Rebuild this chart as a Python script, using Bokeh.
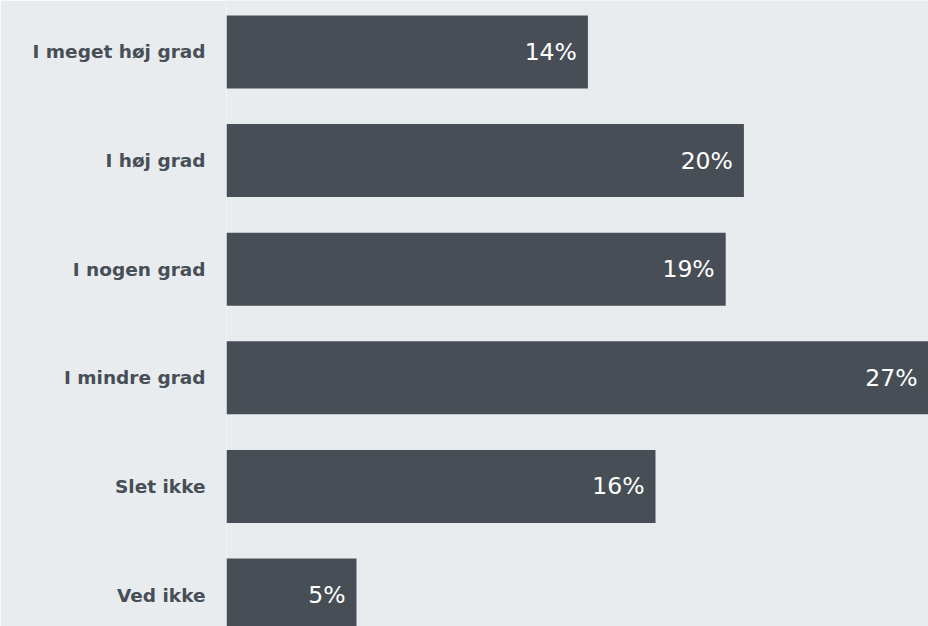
from bokeh.plotting import figure
from bokeh.models import ColumnDataSource, Range1d, FixedTicker
from bokeh.core.properties import value
from bokeh.embed import file_html
from bokeh.resources import INLINE

categories = ["I meget høj grad", "I høj grad", "I nogen grad", "I mindre grad", "Slet ikke", "Ved ikke"]
shares = [13.9, 19.9, 19.2, 27.0, 16.5, 5.0]
share_labels = ["14%", "20%", "19%", "27%", "16%", "5%"]

BG = "#e8ecef"
BAR = "#474e56"

idx = list(range(len(categories)))
src = ColumnDataSource(dict(y=idx, v=shares, lab=share_labels))

p = figure(width=928, height=626, output_backend="svg", toolbar_location=None,
           x_range=Range1d(0, 27.0), y_range=Range1d(5.290, -0.4742),
           min_border_left=226, min_border_right=0, min_border_top=0, min_border_bottom=0,
           background_fill_color=BG, border_fill_color=BG, outline_line_color=None)

p.hbar(y="y", right="v", left=0, height=0.672, source=src, fill_color=BAR, line_color=None)
p.text(x="v", y="y", text="lab", source=src, x_offset=-11, text_align="right",
       text_baseline="middle", text_color="#ffffff", text_font=value("DejaVu Sans"),
       text_font_size="23.5px")

p.xaxis.visible = False
p.xgrid.visible = False
p.ygrid.visible = False

ya = p.yaxis[0]
ya.ticker = FixedTicker(ticks=idx)
ya.major_label_overrides = {i: c for i, c in zip(idx, categories)}
ya.axis_line_color = None
ya.major_tick_line_color = None
ya.minor_tick_line_color = None
ya.major_tick_out = 0
ya.major_tick_in = 0
ya.major_label_standoff = 21
ya.major_label_text_font = "DejaVu Sans"
ya.major_label_text_font_style = "bold"
ya.major_label_text_font_size = "18.5px"
ya.major_label_text_color = BAR

html = file_html(p, INLINE)
open("out.html", "w").write(html)
